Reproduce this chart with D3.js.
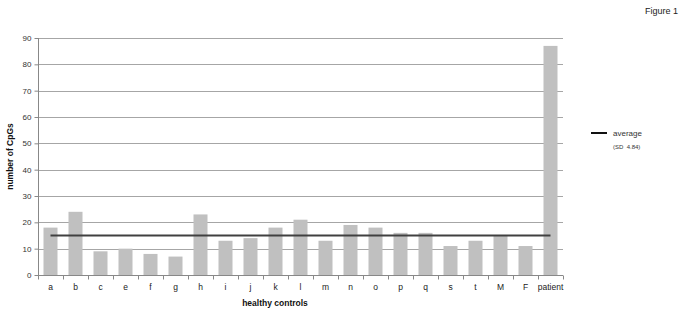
<!DOCTYPE html>
<html>
<head>
<meta charset="utf-8">
<script src="https://cdn.jsdelivr.net/npm/d3@7"></script>
<style>
    body { margin: 0; background: #fff; }
    svg { display: block; font-family: "Liberation Sans", Arial, sans-serif; }
</style>
</head>
<body>
<div id="chart"></div>
<script>
//Datos
const categorias = ['a','b','c','e','f','g','h','i','j','k','l','m','n','o','p','q','s','t','M','F','patient'];
const valores = [18, 24, 9, 10, 8, 7, 23, 13, 14, 18, 21, 13, 19, 18, 16, 16, 11, 13, 15, 11, 87];
const media = 15;
const ticksY = [0, 10, 20, 30, 40, 50, 60, 70, 80, 90];

//Colores
const COLOR_BAR = '#c0c0c0',
COLOR_GRID = '#a6a6a6',
COLOR_AVG = '#404040';

let W = 683, H = 314;
let margin = {top: 38, right: 120, bottom: 39, left: 38},
    width = W - margin.left - margin.right,
    height = H - margin.top - margin.bottom;

let svg = d3.select('#chart')
    .append('svg')
        .attr('width', W)
        .attr('height', H)
    .append('g')
        .attr('transform', 'translate(' + margin.left + ',' + margin.top + ')');

let x = d3.scaleBand()
    .domain(categorias)
    .range([0, width])
    .paddingInner(0.44)
    .paddingOuter(0.22);

let y = d3.scaleLinear()
    .domain([0, 90])
    .range([height, 0]);

//Rejilla
svg.append('g')
    .selectAll('line')
    .data(ticksY.filter(d => d > 0))
    .enter()
    .append('line')
    .attr('x1', 0)
    .attr('x2', width)
    .attr('y1', d => Math.round(y(d)) + 0.5)
    .attr('y2', d => Math.round(y(d)) + 0.5)
    .attr('stroke', COLOR_GRID)
    .attr('stroke-width', 1);

//Eje Y
let yAxis = svg.append('g')
    .attr('transform', 'translate(0.5,0)')
    .call(d3.axisLeft(y).tickValues(ticksY).tickSize(4).tickPadding(3));
yAxis.selectAll('text').attr('font-size', 8).attr('fill', '#333');
yAxis.selectAll('line, path').attr('stroke', '#888');
yAxis.select('.domain').attr('d', 'M0,' + y(90) + 'V' + height);

//Barras
svg.selectAll('bars')
    .data(categorias)
    .enter()
    .append('rect')
    .attr('x', d => x(d))
    .attr('y', (d, i) => y(valores[i]))
    .attr('width', x.bandwidth())
    .attr('height', (d, i) => height - y(valores[i]))
    .attr('fill', COLOR_BAR);

//Eje X
let step = x.step();
let xg = svg.append('g').attr('transform', 'translate(0,' + (height + 0.5) + ')');
xg.append('line')
    .attr('x1', 0).attr('x2', width)
    .attr('stroke', '#888');
xg.selectAll('tick')
    .data(d3.range(categorias.length + 1))
    .enter()
    .append('line')
    .attr('x1', i => Math.round(i * step) + 0.5)
    .attr('x2', i => Math.round(i * step) + 0.5)
    .attr('y1', 0).attr('y2', 4)
    .attr('stroke', '#888');
xg.selectAll('lbl')
    .data(categorias)
    .enter()
    .append('text')
    .attr('x', d => x(d) + x.bandwidth() / 2)
    .attr('y', 14)
    .attr('text-anchor', 'middle')
    .attr('font-size', 8.5)
    .attr('fill', '#222')
    .text(d => d);

//Línea media
svg.append('line')
    .attr('x1', x(categorias[0]) + x.bandwidth() / 2)
    .attr('x2', x(categorias[categorias.length - 1]) + x.bandwidth() / 2)
    .attr('y1', y(media))
    .attr('y2', y(media))
    .attr('stroke', COLOR_AVG)
    .attr('stroke-width', 2);

//Títulos ejes
svg.append('text')
    .attr('x', 237)
    .attr('y', height + 31)
    .attr('text-anchor', 'middle')
    .attr('font-size', 8.5)
    .attr('font-weight', 'bold')
    .attr('fill', '#111')
    .text('healthy controls');

svg.append('text')
    .attr('transform', 'translate(' + (-25) + ',' + (height / 2) + ') rotate(-90)')
    .attr('text-anchor', 'middle')
    .attr('font-size', 8.5)
    .attr('font-weight', 'bold')
    .attr('fill', '#111')
    .text('number of CpGs');

//Leyenda
let leg = svg.append('g').attr('transform', 'translate(' + (591 - margin.left) + ',' + (133 - margin.top) + ')');
leg.append('line')
    .attr('x1', 0).attr('x2', 16)
    .attr('stroke', '#111')
    .attr('stroke-width', 2);
leg.append('text')
    .attr('x', 22).attr('y', 3)
    .attr('font-size', 8)
    .attr('fill', '#333')
    .text('average');
leg.append('text')
    .attr('x', 22).attr('y', 16)
    .attr('font-size', 6)
    .attr('fill', '#333')
    .attr('xml:space', 'preserve')
    .text('(SD  4.84)');

//Figura
d3.select('svg').append('text')
    .attr('x', 678)
    .attr('y', 14)
    .attr('text-anchor', 'end')
    .attr('font-size', 9)
    .attr('fill', '#222')
    .text('Figure 1');
</script>
</body>
</html>
